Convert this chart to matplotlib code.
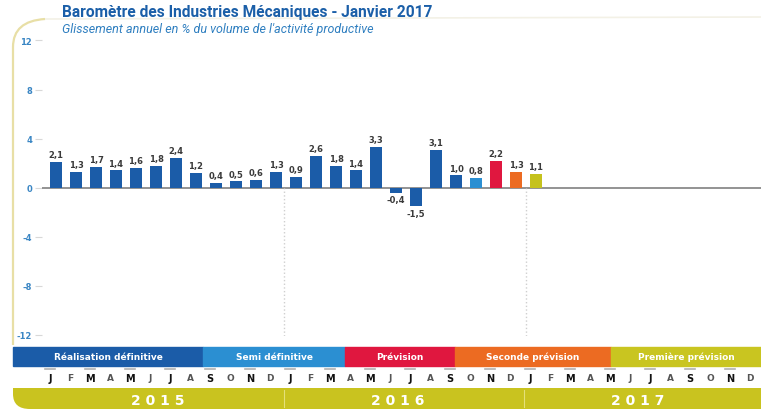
import matplotlib
matplotlib.use("Agg")
import matplotlib.pyplot as plt
from matplotlib.transforms import Affine2D, blended_transform_factory
from matplotlib.patches import Rectangle, PathPatch
from matplotlib.path import Path

# data
months = ["J", "F", "M", "A", "M", "J", "J", "A", "S", "O", "N", "D"] * 3
years = ["2015", "2016", "2017"]
values = [2.1, 1.3, 1.7, 1.4, 1.6, 1.8, 2.4, 1.2, 0.4, 0.5, 0.6, 1.3,
          0.9, 2.6, 1.8, 1.4, 3.3, -0.4, -1.5, 3.1, 1.0, 0.8, 2.2, 1.3,
          1.1]
status = ["def"] * 21 + ["semi", "prev", "prev2", "prev1"]
legend_names = ["Réalisation définitive", "Semi définitive", "Prévision",
                "Seconde prévision", "Première prévision"]
yticks = [12, 8, 4, 0, -4, -8, -12]

colors = {"def": "#1b5ca8", "semi": "#2b8fd2", "prev": "#e0173f",
          "prev2": "#ec6b22", "prev1": "#c5c21d"}
band_colors = ["#1b5ca8", "#2b8fd2", "#e0173f", "#ec6b22", "#c9c520"]
band_edges = [13, 203, 345, 455, 611, 761]
year_color = "#c9c31f"
blue_txt = "#1b5fa8"

W, H = 761, 410
fig = plt.figure(figsize=(W / 100, H / 100), dpi=100)
# pixel coords (top-left origin) -> figure
px = Affine2D().scale(1 / W, -1 / H).translate(0, 1) + fig.transFigure

ax = fig.add_axes([42 / W, (H - 337) / H, (W - 42) / W, 298 / H])
x = list(range(len(values)))
ax.bar(x, values, width=0.6, color=[colors[s] for s in status], zorder=3)
for xi, v in zip(x, values):
    lbl = ("%.1f" % v).replace(".", ",")
    if v >= 0:
        ax.annotate(lbl, (xi, v), xytext=(0, 2), textcoords="offset points",
                    ha="center", va="bottom", fontsize=6, fontweight="bold",
                    color="#3a3a3a")
    else:
        ax.annotate(lbl, (xi, v), xytext=(0, -2), textcoords="offset points",
                    ha="center", va="top", fontsize=6, fontweight="bold",
                    color="#3a3a3a")

ax.axhline(0, color="#8a8a8a", lw=1.3, zorder=2)
ax.vlines([11.4, 23.5], -12.1, 0, colors="#cfcfcf", linestyles=":", lw=1)
ax.set_xlim(-0.7, 35.25)
ax.set_ylim(-12.1, 12.2)
ax.set_xticks([])
ax.set_yticks(yticks)
ax.set_yticklabels([str(t) for t in yticks])
ax.tick_params(axis="y", length=5, color="#d8d8d8", labelsize=6,
               labelcolor="#3a86c4", pad=2)
for lab in ax.get_yticklabels():
    lab.set_fontweight("bold")
for s in ax.spines.values():
    s.set_visible(False)

# frame line on the left with rounded corner
frame = Path([(13, 346), (13, 48), (13, 22), (45, 20)],
             [Path.MOVETO, Path.LINETO, Path.CURVE3, Path.CURVE3])
fig.patches.append(PathPatch(frame, transform=px, fill=False,
                             edgecolor="#e8dfa6", lw=1.6, zorder=-1))
top = Path([(45, 20), (761, 18)])
fig.patches.append(PathPatch(top, transform=px, fill=False,
                             edgecolor="#f3f1e6", lw=1.2, zorder=-1))

# title
fig.text(62, 13, "Baromètre des Industries Mécaniques - Janvier 2017",
         transform=px, fontsize=11.2, fontweight="bold", family="Roboto",
         color=blue_txt, va="center")
fig.text(62, 30, "Glissement annuel en % du volume de l'activité productive",
         transform=px, fontsize=9, style="italic", family="Roboto",
         color="#2f7fc0", va="center")

# status band
for i, name in enumerate(legend_names):
    x0, x1 = band_edges[i], band_edges[i + 1]
    fig.patches.append(Rectangle((x0, 348), x1 - x0, 19, transform=px,
                                 color=band_colors[i], zorder=-1))
    fig.text((x0 + x1) / 2, 357.5, name, transform=px, ha="center",
             va="center", fontsize=6.5, fontweight="bold", color="white")

# month letters
mt = blended_transform_factory(ax.transData, px)
for i, m in enumerate(months):
    xm = i - 0.3
    if i % 2 == 0:
        ax.plot([xm - 0.25, xm + 0.25], [370, 370], transform=mt,
                color="#b0b0b0", lw=1.2, clip_on=False)
        ax.text(xm, 379, m, transform=mt, ha="center", va="center",
                fontsize=7, fontweight="bold", color="#111111")
    else:
        ax.text(xm, 379, m, transform=mt, ha="center", va="center",
                fontsize=6.5, fontweight="bold", color="#555555")

# year band
yb = Path([(13, 389), (761, 389), (761, 410), (30, 410), (13, 410), (13, 395),
           (13, 389)],
          [Path.MOVETO, Path.LINETO, Path.LINETO, Path.LINETO, Path.CURVE3,
           Path.CURVE3, Path.CLOSEPOLY])
fig.patches.append(PathPatch(yb, transform=px, facecolor=year_color,
                             edgecolor="none", zorder=-1))
for k, yr in enumerate(years):
    ax.text(12 * k + 5.1, 401, " ".join(yr), transform=mt, ha="center",
            va="center", fontsize=10, fontweight="bold", color="white")
for k in (1, 2):
    ax.plot([12 * k - 0.6] * 2, [391, 408], transform=mt, color="#e4e07a",
            lw=0.8, clip_on=False)

fig.savefig("out.png", dpi=100)
